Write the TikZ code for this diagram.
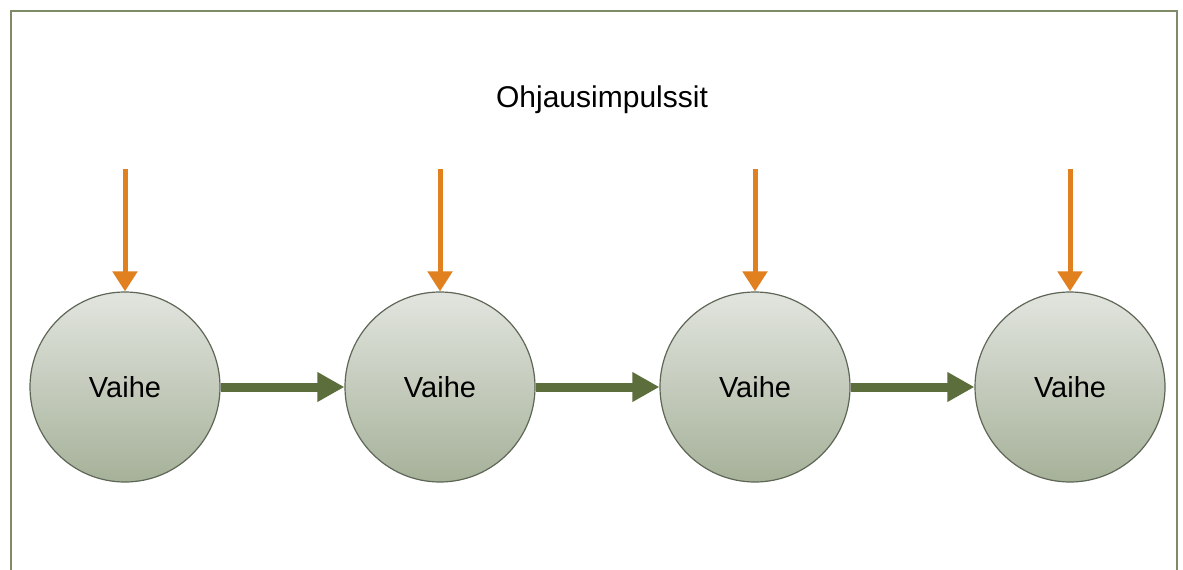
\documentclass[tikz,border=0pt]{standalone}
\usepackage{fontspec}
\setmainfont{Liberation Sans}
\usetikzlibrary{arrows.meta}
\definecolor{framecol}{HTML}{7F8B68}
\definecolor{pulse}{HTML}{E0801E}
\definecolor{flow}{HTML}{5B6E3C}
\definecolor{ballTop}{HTML}{E2E5DF}
\definecolor{ballBot}{HTML}{A6B199}
\definecolor{ballEdge}{HTML}{5E6656}
\tikzset{
  stage/.style={circle, minimum size=190pt, inner sep=0pt, draw=ballEdge, line width=1.2pt,
    top color=ballTop, bottom color=ballBot, font=\fontsize{29}{31}\selectfont},
  pulsearrow/.style={draw=pulse, line width=5pt,
    -{Triangle[length=20pt, width=24pt, fill=pulse]}},
  flowarrow/.style={draw=flow, line width=9pt,
    -{Triangle[length=27pt, width=28pt, fill=flow]}},
}
\begin{document}
\begin{tikzpicture}[x=1pt, y=-1pt]
  \useasboundingbox (0,0) rectangle (1183,570);
  \fill[white] (0,0) rectangle (1183,570);
  % open-bottom frame
  \draw[framecol, line width=2.5pt] (11,572) -- (11,11) -- (1177,11) -- (1177,572);
  \node[font=\fontsize{30}{32}\selectfont] (title) at (602,100) {Ohjausimpulssit};
  % stages
  \node[stage] (s1) at (125,387) {Vaihe};
  \node[stage] (s2) at (440,387) {Vaihe};
  \node[stage] (s3) at (755,387) {Vaihe};
  \node[stage] (s4) at (1070,387) {Vaihe};
  % control pulse sources
  \foreach \i in {1,...,4} {
    \coordinate (p\i) at ([yshift=122pt]s\i.north);
    \draw[pulsearrow] (p\i) -- (s\i.north);
  }
  % flow between stages
  \draw[flowarrow] (s1.east) -- (s2.west);
  \draw[flowarrow] (s2.east) -- (s3.west);
  \draw[flowarrow] (s3.east) -- (s4.west);
\end{tikzpicture}
\end{document}
